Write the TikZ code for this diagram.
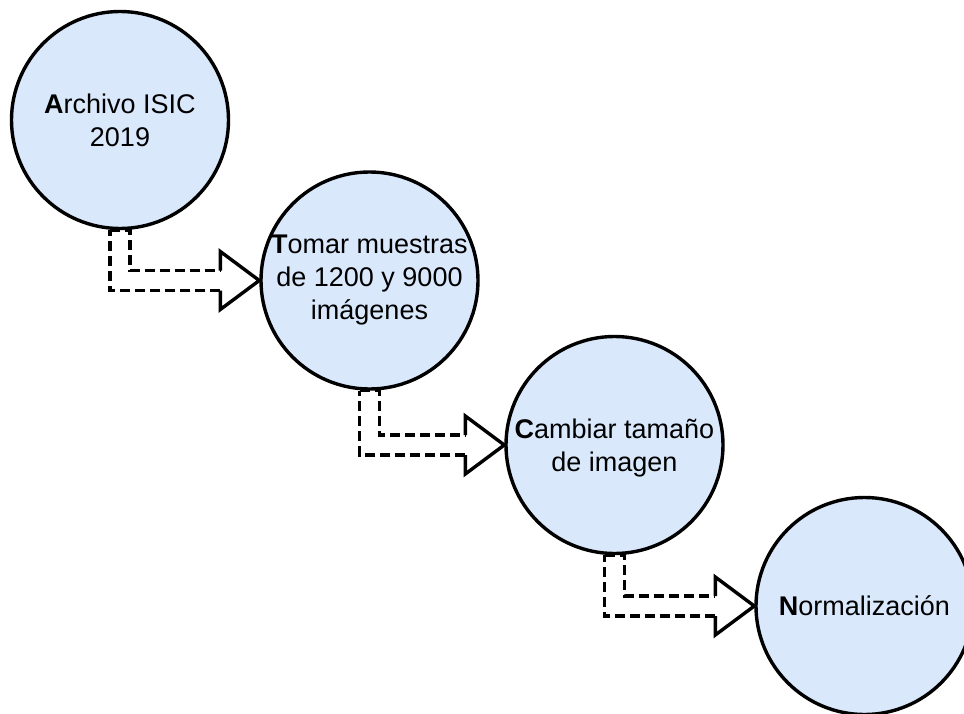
\documentclass[tikz,border=0pt]{standalone}
\usepackage{fontspec}
\setmainfont{Liberation Sans}
\usetikzlibrary{calc}
\definecolor{stagefill}{HTML}{DAE8FC}
\tikzset{
  stage/.style={circle, draw=black, fill=stagefill, line width=3.4pt, minimum size=217pt, inner sep=0pt},
  stagetext/.style={align=center, inner sep=0pt, font=\fontsize{27}{33}\selectfont},
  shaft/.style={line width=3.4pt, dash pattern=on 10pt off 5pt},
  head/.style={line width=3.4pt, line join=miter},
}
\newcommand\stagearrow[2]{%
  \draw[shaft] ($(#1.south)+(-10,0)$) -- ($(#1.south)+(10,0)$) -- ($(#1.south |- #2.west)+(10,-10)$) -- ($(#2.west)+(-39,-10)$);
  \draw[head] ($(#2.west)+(-39,-10)$) -- ($(#2.west)+(-39,-29)$) -- (#2.west) -- ($(#2.west)+(-39,29)$) -- ($(#2.west)+(-39,10)$);
  \draw[shaft] ($(#2.west)+(-39,10)$) -- ($(#1.south |- #2.west)+(-10,10)$) -- ($(#1.south)+(-10,0)$);
}
\begin{document}
\begin{tikzpicture}[x=1pt,y=-1pt]
\useasboundingbox (0,0) rectangle (964,714);
\clip (0,0) rectangle (964,714);
\fill[white] (0,0) rectangle (964,714);
\node[stage] (c1) at (120,120) {};
\node[stage] (c2) at (369.5,280.5) {};
\node[stage] (c3) at (614.5,445) {};
\node[stage] (c4) at (864.5,606) {};
\node[stagetext] (t1) at (c1) {\textbf{A}rchivo ISIC\\2019};
\node[stagetext] (t2) at (c2) {\textbf{T}omar muestras\\de 1200 y 9000\\imágenes};
\node[stagetext] (t3) at ($(c3)+(0,3)$) {\textbf{C}ambiar tamaño\\de imagen};
\node[stagetext] (t4) at (c4) {\textbf{N}ormalización};
\stagearrow{c1}{c2}
\stagearrow{c2}{c3}
\stagearrow{c3}{c4}
\end{tikzpicture}
\end{document}
